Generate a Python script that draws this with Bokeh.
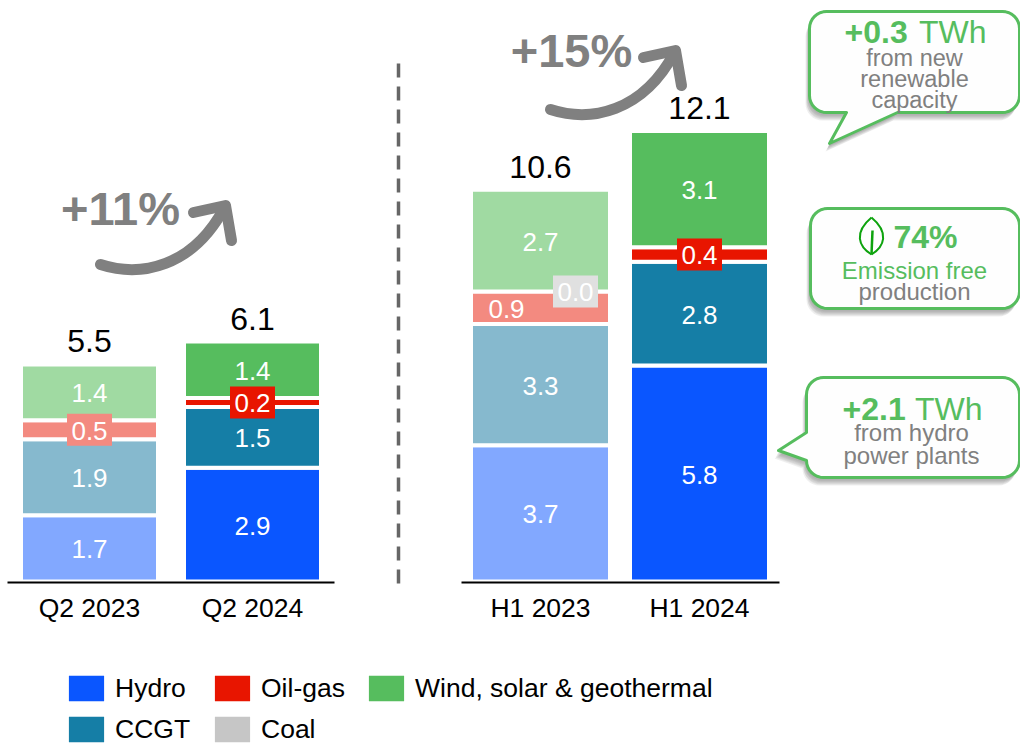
import math
from bokeh.plotting import figure
from bokeh.layouts import column
from bokeh.models import Range1d, FixedTicker, Legend, LegendItem, ColumnDataSource
from bokeh.core.properties import value
from bokeh.embed import file_html
from bokeh.resources import INLINE

# ---- data (TWh)
periods = ["Q2 2023", "Q2 2024", "H1 2023", "H1 2024"]
hydro = [1.68, 2.89, 3.67, 5.82]
ccgt = [1.93, 1.54, 3.27, 2.80]
oil_gas = [0.48, 0.23, 0.88, 0.39]
coal = [0.00, 0.00, 0.00, 0.00]
wind = [1.42, 1.43, 2.74, 3.13]
totals = ["5.5", "6.1", "10.6", "12.1"]
series_names = ["Hydro", "CCGT", "Oil-gas", "Coal", "Wind, solar & geothermal"]
growth = ["+11%", "+15%"]

# ---- styles
FONT = value("Liberation Sans")
dark = {"Hydro": "#0A56FF", "CCGT": "#157EA6", "Oil-gas": "#E81500", "Coal": "#C6C6C6",
        "Wind, solar & geothermal": "#56BD5E"}
light = {"Hydro": "#82A8FF", "CCGT": "#86B9CE", "Oil-gas": "#F38A80", "Coal": "#E0E0E0",
         "Wind, solar & geothermal": "#A0DAA2"}
GREEN = "#56BD5E"
GREY = "#808080"
W, H = 1020, 744
TOP_H = 628
BASE, FRAME_BOTTOM = 581, 592
centers = [89, 252, 540, 699]
panel = ["q2", "q2", "h1", "h1"]
scale = {"q2": 39.4, "h1": 37.1}
bar_w = [137, 137, 139, 139]

p = figure(width=W, height=TOP_H, output_backend="svg", toolbar_location=None,
           x_range=Range1d(0, W), y_range=Range1d(FRAME_BOTTOM, 0),
           y_axis_location=None, min_border=0, min_border_bottom=TOP_H - FRAME_BOTTOM,
           outline_line_color=None, background_fill_color="white", border_fill_color="white")
p.grid.visible = False
for name, s in scale.items():
    p.extra_y_ranges[name] = Range1d((BASE - FRAME_BOTTOM) / s, BASE / s)

ax = p.xaxis[0]
ax.ticker = FixedTicker(ticks=centers)
ax.major_label_overrides = dict(zip(centers, periods))
ax.axis_line_color = None
ax.major_tick_line_color = None
ax.minor_tick_line_color = None
ax.major_label_text_font = "Liberation Sans"
ax.major_label_text_font_size = "26.5px"
ax.major_label_text_color = "#000000"
ax.major_label_standoff = -6

# ---- stacked bars
all_series = [hydro, ccgt, oil_gas, coal, wind]
labels = []
for i in range(4):
    rng = panel[i]
    pal = light if i in (0, 2) else dark
    bottom = 0.0
    for name, vals in zip(series_names, all_series):
        v = vals[i]
        top = bottom + v
        mid = (bottom + top) / 2
        col = pal[name]
        if v > 0:
            p.vbar(x=[centers[i]], bottom=[bottom], top=[top], width=bar_w[i], fill_color=col,
                   line_color="white", line_width=4, y_range_name=rng)
        if name != "Coal" or i == 2:
            boxed = (name == "Oil-gas" and v < 0.6) or name == "Coal"
            dx = {"Oil-gas": -34 if i == 2 else 0, "Coal": 35}.get(name, 0)
            labels.append((centers[i] + dx, mid, f"{v:.1f}", col if boxed else None, rng))
        bottom = top
    p.text(x=[centers[i]], y=[bottom], text=[totals[i]], text_color="black", text_font=FONT,
           text_font_size="32px", text_align="center", text_baseline="bottom", y_offset=-12,
           y_range_name=rng)

for (lx, ly, s, box, rng) in labels:
    if box:
        p.rect(x=[lx], y=[ly], width=45, height=32, width_units="screen",
               height_units="screen", fill_color=box, line_color=None, y_range_name=rng)
    p.text(x=[lx], y=[ly], text=[s], text_color="white", text_font=FONT,
           text_font_size="26px", text_align="center", text_baseline="middle", y_offset=1,
           y_range_name=rng)

# ---- base lines and divider
p.segment(x0=[7, 461], y0=[BASE + 1, BASE + 1], x1=[334, 779], y1=[BASE + 1, BASE + 1], line_color="black", line_width=2)
p.segment(x0=[398], y0=[63], x1=[398], y1=[591], line_color="#666666", line_width=3.5, line_dash="14 9")

# ---- growth arrows
for (lab, ox, oy, tx, ty) in [(growth[0], -450, 155, 120, 208), (growth[1], 0, 0, 571, 50)]:
    p.text(x=[tx], y=[ty], text=[lab], text_color=GREY, text_font=FONT, text_font_size="47px",
           text_font_style="bold", text_align="center", text_baseline="middle")
    p.bezier(x0=[550 + ox], y0=[109 + oy], cx0=[590 + ox], cy0=[122 + oy], cx1=[642 + ox], cy1=[112 + oy],
             x1=[674 + ox], y1=[52 + oy], line_color=GREY, line_width=11, line_cap="round")
    p.line(x=[643 + ox, 675 + ox, 681 + ox], y=[57 + oy, 50 + oy, 85 + oy], line_color=GREY, line_width=11,
           line_cap="round", line_join="round")


# ---- call-outs
def rounded(x0, y0, x1, y1, r, tail=None, side=None):
    xs, ys = [], []
    def arc(cx, cy, a0):
        for k in range(9):
            a = math.radians(a0 + k * 90 / 8)
            xs.append(cx + r * math.cos(a))
            ys.append(cy + r * math.sin(a))
    arc(x0 + r, y0 + r, 180)
    arc(x1 - r, y0 + r, 270)
    arc(x1 - r, y1 - r, 0)
    if side == "bottom":
        xs.extend(t[0] for t in tail[::-1])
        ys.extend(t[1] for t in tail[::-1])
    arc(x0 + r, y1 - r, 90)
    if side == "left":
        xs.extend(t[0] for t in tail[::-1])
        ys.extend(t[1] for t in tail[::-1])
    return xs, ys


def callout(x0, y0, x1, y1, tail=None, side=None):
    xs, ys = rounded(x0, y0, x1, y1, 17, tail, side)
    for (dx, dy) in [(-4, 8), (-3, 7), (-3, 6), (-2, 5), (-2, 4), (-1, 3)]:
        p.patch(x=[a + dx for a in xs], y=[b + dy for b in ys], fill_color="#606060", fill_alpha=0.10,
                line_color=None)
    p.patch(x=xs, y=ys, fill_color="#FEFEFE", line_color=GREEN, line_width=3, line_join="round")


callout(809, 11, 1019, 112, [(846, 112), (829, 143), (897, 112)], "bottom")
callout(810, 208, 1019, 308)
callout(806, 377, 1019, 477, [(806, 432), (778, 450), (806, 460)], "left")


def txt(x, y, s, color, size, align="center", bold=False):
    p.text(x=[x], y=[y], text=[s], text_color=color, text_font=FONT, text_font_size=size,
           text_align=align, text_baseline="middle", text_font_style="bold" if bold else "normal")


txt(844, 31, "+0.3", GREEN, "32px", "left", True)
txt(986, 31, "TWh", GREEN, "32px", "right")
for y, s in [(57, "from new"), (78, "renewable"), (99, "capacity")]:
    txt(914, y, s, GREY, "23.5px")

txt(893, 236, "74%", GREEN, "32px", "left", True)
txt(914, 270, "Emission free", GREEN, "24px")
txt(914, 291, "production", GREY, "24px")
LEAF = "#0EA30E"
p.bezier(x0=[871, 871], y0=[217, 217], cx0=[853, 889], cy0=[232, 232], cx1=[858, 884], cy1=[246, 246],
         x1=[871, 871], y1=[254, 254], line_color=LEAF, line_width=2)
p.segment(x0=[872], y0=[230], x1=[871], y1=[254], line_color=LEAF, line_width=2.5)

txt(842, 408, "+2.1", GREEN, "32px", "left", True)
txt(982, 408, "TWh", GREEN, "32px", "right")
txt(911, 432, "from hydro", GREY, "24px")
txt(911, 455, "power plants", GREY, "24px")

# ---- legend: three columns, first two of two rows
q = figure(width=W, height=H - TOP_H, output_backend="svg", toolbar_location=None,
           x_range=Range1d(0, 1), y_range=Range1d(0, 1), x_axis_location=None, y_axis_location=None,
           min_border=0, outline_line_color=None)
q.grid.visible = False
offstage = ColumnDataSource(data=dict(x=[5], y=[5]))
swatch = {}
for name in series_names:
    swatch[name] = q.rect(x="x", y="y", width=1, height=1, source=offstage, fill_color=dark[name],
                          line_color=None)
legend_columns = [(["Hydro", "CCGT"], 64, -1), (["Oil-gas", "Coal"], 210, -1),
                  (["Wind, solar & geothermal"], 364, 40)]
for names, lx, ly in legend_columns:
    legend = Legend(items=[LegendItem(label=n, renderers=[swatch[n]]) for n in names],
                    location=(lx, ly), orientation="vertical",
                    glyph_width=44, glyph_height=32, label_standoff=7, spacing=9, padding=0, margin=0,
                    border_line_color=None, background_fill_alpha=0,
                    label_text_font="Liberation Sans", label_text_font_size="26.5px", label_text_color="#000000")
    q.add_layout(legend)

page = column(p, q, spacing=0)
open("out.html", "w").write(file_html(page, INLINE))
